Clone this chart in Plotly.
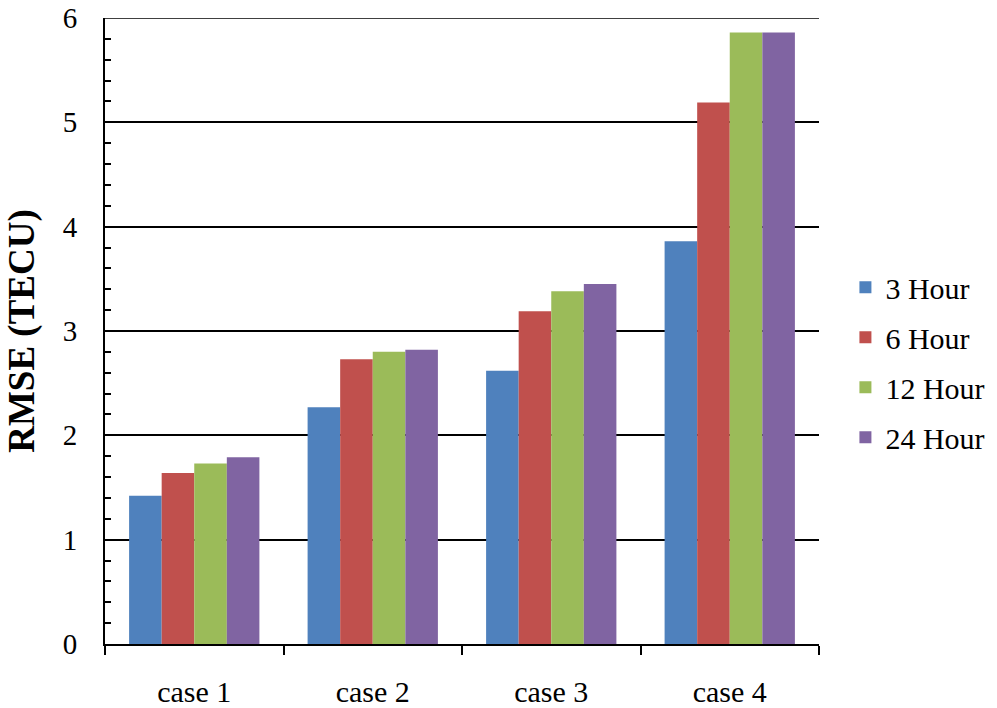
import plotly.graph_objects as go

# RMSE of TEC forecasts per test case and forecast horizon
cases = ["case 1", "case 2", "case 3", "case 4"]
horizons = ["3 Hour", "6 Hour", "12 Hour", "24 Hour"]
rmse_3h = [1.42, 2.27, 2.62, 3.86]
rmse_6h = [1.64, 2.73, 3.19, 5.19]
rmse_12h = [1.73, 2.80, 3.38, 5.86]
rmse_24h = [1.79, 2.82, 3.45, 5.86]
colors = ["#4F81BD", "#C0504D", "#9BBB59", "#8064A2"]

series = [rmse_3h, rmse_6h, rmse_12h, rmse_24h]
font_family = "Liberation Serif"
y_max = 6

fig = go.Figure()
for name, vals, col in zip(horizons, series, colors):
    fig.add_trace(go.Bar(
        x=cases, y=vals, name=name, legendgroup=name,
        marker=dict(color=col, line=dict(width=0)),
    ))

fig.update_layout(
    width=997, height=708,
    margin=dict(l=105, r=178, t=18, b=64, autoexpand=False),
    paper_bgcolor="white", plot_bgcolor="white",
    barmode="group", bargap=0.27, bargroupgap=0,
    font=dict(family=font_family, color="black", size=30),
    showlegend=True,
    legend=dict(
        x=1.037, y=0.45, xanchor="left", yanchor="middle",
        font=dict(size=30, family=font_family, color="black"),
        tracegroupgap=8, itemwidth=30,
        bgcolor="rgba(0,0,0,0)",
    ),
    # gridline at the top of the value range
    shapes=[dict(type="line", xref="paper", x0=0, x1=1, yref="y",
                 y0=y_max, y1=y_max, line=dict(color="black", width=1.5))],
)

fig.update_xaxes(
    showline=True, linecolor="black", linewidth=2,
    ticks="outside", ticklen=9, tickwidth=2, tickcolor="black",
    tickson="boundaries", showgrid=False, automargin=False,
    tickfont=dict(size=30, family=font_family),
    ticklabelstandoff=20,
)

fig.update_yaxes(
    range=[0, y_max], dtick=1, tick0=0,
    showline=True, linecolor="black", linewidth=2,
    showgrid=True, gridcolor="black", gridwidth=1.5,
    ticks="inside", ticklen=6, tickwidth=2, tickcolor="black",
    minor=dict(dtick=0.2, ticks="inside", ticklen=6, tickwidth=1.5,
               tickcolor="black", showgrid=False),
    zeroline=False, automargin=False,
    tickfont=dict(size=29, family=font_family),
    ticklabelstandoff=20,
    title=dict(text="<b>RMSE (TECU)</b>", standoff=17,
               font=dict(size=37, family=font_family)),
)

fig.write_html("out.html")
